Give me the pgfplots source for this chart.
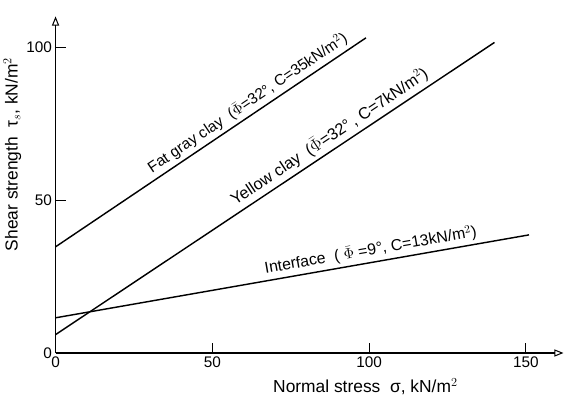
\documentclass[border=0pt]{standalone}
\usepackage{pgfplots}
\pgfplotsset{compat=1.18}
\usepackage{fontspec}
\setmainfont{Liberation Sans}
\usetikzlibrary{arrows.meta}
\begin{document}
\begin{tikzpicture}
\begin{axis}[
  scale only axis,
  width=495bp, height=328bp,
  xmin=0, xmax=162, ymin=0, ymax=110,
  axis lines=left,
  axis line style={line width=1pt, -{Triangle[open, length=9pt, width=7pt]}},
  xtick={0,50,100,150}, ytick={0,50,100},
  tick align=inside,
  major tick length=10pt,
  tick style={black, line width=0.8pt},
  /pgf/number format/assume math mode=true,
  ticklabel style={font=\fontsize{15}{17}\selectfont},
  xlabel={Normal stress \ σ, kN/m$^2$},
  ylabel={Shear strength \ τ$_s$, kN/m$^2$},
  label style={font=\fontsize{17}{19}\selectfont},
  xlabel style={at={(axis description cs:0.61,-0.065)}, anchor=north},
  ylabel style={at={(axis description cs:-0.085,0.59)}, anchor=center},
  clip=false,
]
\addplot[black, line width=1.4pt] coordinates {(0,34.7) (99,103)}
  node[pos=0.64, sloped, above, font=\fontsize{15}{17}\selectfont] {Fat gray clay \ ($\bar{\Phi}$=32°, C=35kN/m$^2$)};
\addplot[black, line width=1.4pt] coordinates {(0,6) (140,101.5)}
  node[pos=0.64, sloped, above, font=\fontsize{16}{18}\selectfont] {Yellow clay \ ($\bar{\Phi}$=32°\,, C=7kN/m$^2$)};
\addplot[black, line width=1.4pt] coordinates {(0,11.5) (151,38.6)}
  node[pos=0.67, sloped, above, font=\fontsize{15.5}{17}\selectfont] {Interface \ ( $\bar{\Phi}$ =9°, C=13kN/m$^2$)};
\end{axis}
\path ([yshift=16bp]current axis.north west);
\end{tikzpicture}
\end{document}
